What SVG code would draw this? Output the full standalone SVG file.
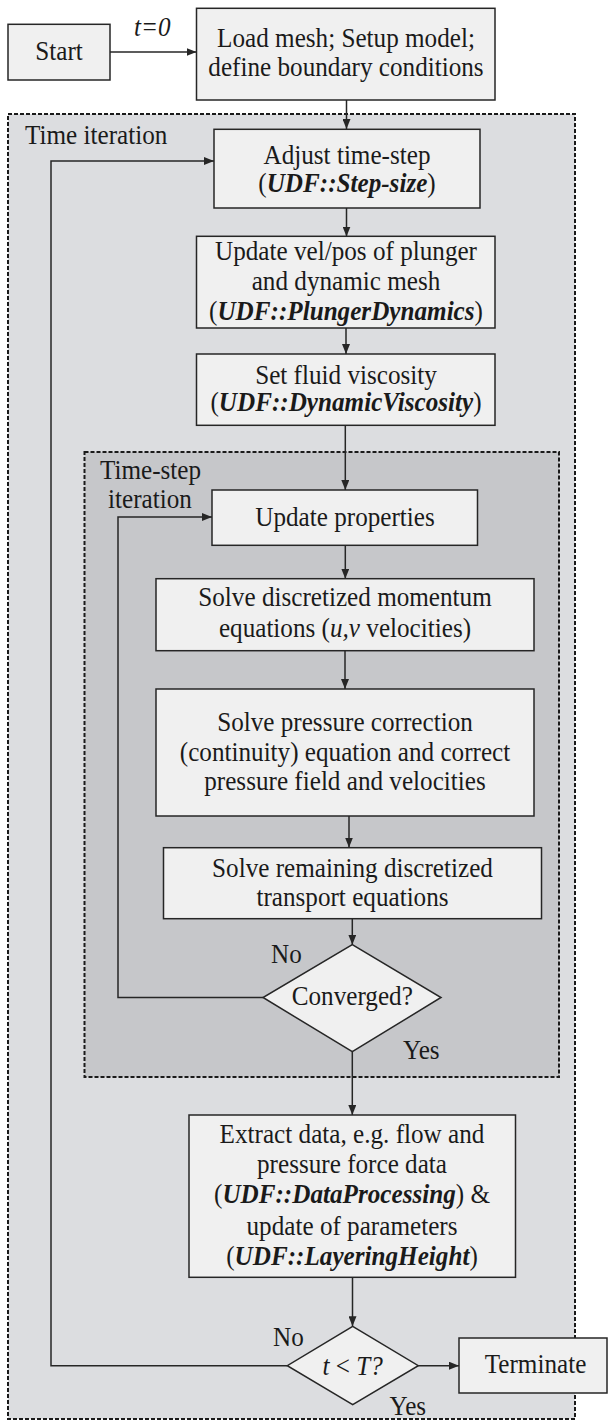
<svg xmlns="http://www.w3.org/2000/svg" width="608" height="1421" viewBox="0 0 608 1421">
<style>
.box{fill:#f0f0f0;stroke:#262626;stroke-width:1.5}
.dec{fill:#f0f0f0;stroke:#262626;stroke-width:1.5}
.grp{stroke:#1a1a1a;stroke-width:2;stroke-dasharray:4 2}
.t{font-family:"Liberation Serif","Times New Roman",serif;font-size:26.5px;fill:#1a1a1a;text-anchor:middle}
.tl{font-family:"Liberation Serif","Times New Roman",serif;font-size:26.5px;fill:#1a1a1a}
.bi{font-weight:bold;font-style:italic}
.i{font-style:italic}
.c{fill:none;stroke:#262626;stroke-width:1.5}
</style>
<defs>
<marker id="ah" markerUnits="userSpaceOnUse" markerWidth="10" markerHeight="8" refX="10" refY="4" orient="auto">
<path d="M0,0 L10,4 L0,8 z" fill="#262626"/>
</marker>
</defs>
<rect width="608" height="1421" fill="#ffffff"/>
<g id="outer-group">
<rect class="grp" x="8" y="114" width="567" height="1305" fill="#dcdde0"/>
<text class="tl" transform="translate(25 0) scale(0.95 1)" y="144">Time iteration</text>
</g>
<g id="inner-group">
<rect class="grp" x="84.5" y="452" width="474.5" height="625" fill="#c6c7ca"/>
<text class="tl" transform="translate(100 0) scale(0.95 1)" y="479">Time-step</text>
<text class="tl" transform="translate(108 0) scale(0.95 1)" y="508">iteration</text>
</g>
<g id="connectors">
<path class="c" d="M110,52 H196.5" marker-end="url(#ah)"/>
<path class="c" d="M346.5,100 V129" marker-end="url(#ah)"/>
<path class="c" d="M346.5,208 V236.5" marker-end="url(#ah)"/>
<path class="c" d="M346,328 V354" marker-end="url(#ah)"/>
<path class="c" d="M345.3,425.5 V490" marker-end="url(#ah)"/>
<path class="c" d="M345.3,545.5 V578.7" marker-end="url(#ah)"/>
<path class="c" d="M345,650.7 V689" marker-end="url(#ah)"/>
<path class="c" d="M349,816 V847.5" marker-end="url(#ah)"/>
<path class="c" d="M352.3,918.7 V944.7" marker-end="url(#ah)"/>
<path class="c" d="M352.3,1051.7 V1115" marker-end="url(#ah)"/>
<path class="c" d="M263,997.5 H118 V517 H212" marker-end="url(#ah)"/>
<path class="c" d="M352.5,1277.3 V1326.3" marker-end="url(#ah)"/>
<path class="c" d="M418.3,1365.7 H459" marker-end="url(#ah)"/>
<path class="c" d="M287.3,1365.7 H51 V161 H214" marker-end="url(#ah)"/>
<text class="tl i" transform="translate(134 0) scale(0.95 1)" y="36">t=0</text>
<text class="tl" transform="translate(271 0) scale(0.95 1)" y="962.7">No</text>
<text class="tl" transform="translate(403 0) scale(0.95 1)" y="1059.3">Yes</text>
<text class="tl" transform="translate(273 0) scale(0.95 1)" y="1346.3">No</text>
<text class="tl" transform="translate(389.5 0) scale(0.95 1)" y="1414.7">Yes</text>
</g>
<g id="start">
<rect class="box" x="8" y="24.3" width="102" height="55.7"/>
<text class="t" transform="translate(59 0) scale(0.95 1)" y="60.5">Start</text>
</g>
<g id="load">
<rect class="box" x="196.5" y="8.3" width="298.5" height="91.7"/>
<text class="t" transform="translate(346 0) scale(0.95 1)" y="46.7">Load mesh; Setup model;</text>
<text class="t" transform="translate(346 0) scale(0.95 1)" y="76.5">define boundary conditions</text>
</g>
<g id="adjust">
<rect class="box" x="214" y="129.3" width="266" height="78.7"/>
<text class="t" transform="translate(347 0) scale(0.95 1)" y="164.5">Adjust time-step</text>
<text class="t" transform="translate(347 0) scale(0.95 1)" y="191.7">(<tspan class="bi">UDF::Step-size</tspan>)</text>
</g>
<g id="plunger">
<rect class="box" x="196.5" y="236.3" width="298.5" height="91.7"/>
<text class="t" transform="translate(346 0) scale(0.95 1)" y="259.7">Update vel/pos of plunger</text>
<text class="t" transform="translate(346 0) scale(0.95 1)" y="290.3">and dynamic mesh</text>
<text class="t" transform="translate(346 0) scale(0.95 1)" y="320.3">(<tspan class="bi">UDF::PlungerDynamics</tspan>)</text>
</g>
<g id="viscosity">
<rect class="box" x="196.5" y="354" width="298.5" height="71.3"/>
<text class="t" transform="translate(346 0) scale(0.95 1)" y="384">Set fluid viscosity</text>
<text class="t" transform="translate(346 0) scale(0.95 1)" y="411.5">(<tspan class="bi">UDF::DynamicViscosity</tspan>)</text>
</g>
<g id="update-properties">
<rect class="box" x="212" y="490" width="265.5" height="55.3"/>
<text class="t" transform="translate(345 0) scale(0.95 1)" y="526">Update properties</text>
</g>
<g id="momentum">
<rect class="box" x="156" y="578.7" width="378" height="72"/>
<text class="t" transform="translate(345 0) scale(0.95 1)" y="606">Solve discretized momentum</text>
<text class="t" transform="translate(345 0) scale(0.95 1)" y="637.3">equations (<tspan class="i">u,v</tspan> velocities)</text>
</g>
<g id="pressure">
<rect class="box" x="156" y="689" width="378" height="127"/>
<text class="t" transform="translate(345 0) scale(0.95 1)" y="730.7">Solve pressure correction</text>
<text class="t" transform="translate(345 0) scale(0.95 1)" y="760.7">(continuity) equation and correct</text>
<text class="t" transform="translate(345 0) scale(0.95 1)" y="790">pressure field and velocities</text>
</g>
<g id="transport">
<rect class="box" x="163.5" y="847.7" width="378" height="71"/>
<text class="t" transform="translate(352.5 0) scale(0.95 1)" y="877">Solve remaining discretized</text>
<text class="t" transform="translate(352.5 0) scale(0.95 1)" y="906.3">transport equations</text>
</g>
<g id="converged">
<polygon class="dec" points="352.3,944.7 441,997.5 352.3,1051.7 263,997.5"/>
<text class="t" transform="translate(352.3 0) scale(0.95 1)" y="1005.3">Converged?</text>
</g>
<g id="extract">
<rect class="box" x="189" y="1115" width="326.5" height="162.3"/>
<text class="t" transform="translate(352 0) scale(0.95 1)" y="1143.3">Extract data, e.g. flow and</text>
<text class="t" transform="translate(352 0) scale(0.95 1)" y="1173.3">pressure force data</text>
<text class="t" transform="translate(352 0) scale(0.95 1)" y="1203.3">(<tspan class="bi">UDF::DataProcessing</tspan>) &amp;</text>
<text class="t" transform="translate(352 0) scale(0.95 1)" y="1234.7">update of parameters</text>
<text class="t" transform="translate(352 0) scale(0.95 1)" y="1264.7">(<tspan class="bi">UDF::LayeringHeight</tspan>)</text>
</g>
<g id="time-check">
<polygon class="dec" points="352.7,1326.3 418.3,1365.7 352.7,1404.7 287.3,1365.7"/>
<text class="t" transform="translate(352.7 0) scale(0.95 1)" y="1374.7"><tspan class="i">t</tspan> &lt; <tspan class="i">T?</tspan></text>
</g>
<g id="terminate">
<rect class="box" x="459" y="1338" width="148" height="55"/>
<text class="t" transform="translate(535.5 0) scale(0.95 1)" y="1373.5">Terminate</text>
</g>
</svg>
